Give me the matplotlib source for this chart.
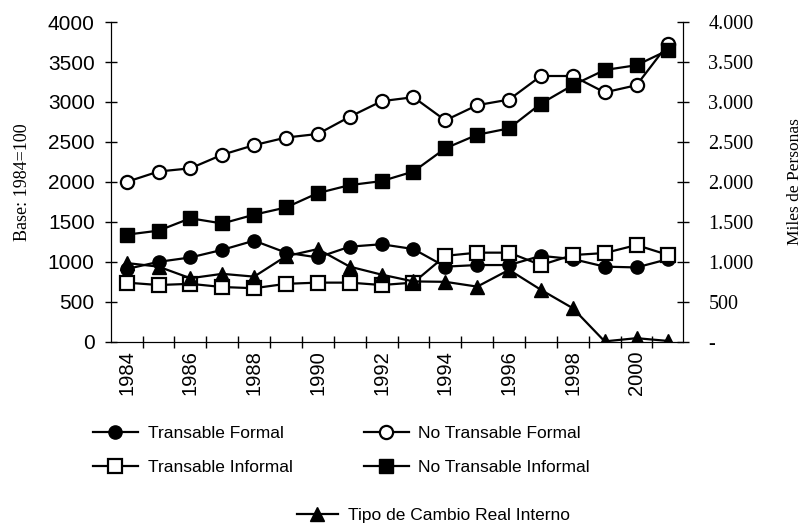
import matplotlib
matplotlib.use("Agg")
import matplotlib.pyplot as plt
from matplotlib.ticker import FuncFormatter, MultipleLocator

anios = list(range(1984, 2002))

transable_formal = [910, 1000, 1055, 1150, 1265, 1115, 1055, 1190, 1220,
                    1160, 940, 960, 960, 1075, 1035, 940, 930, 1035]
no_transable_formal = [2000, 2130, 2170, 2340, 2460, 2555, 2600, 2815, 3010,
                       3060, 2770, 2960, 3030, 3325, 3325, 3120, 3210, 3730]
transable_informal = [740, 710, 725, 685, 670, 725, 740, 740, 710,
                      740, 1075, 1115, 1115, 960, 1085, 1110, 1210, 1085]
no_transable_informal = [1340, 1390, 1545, 1480, 1590, 1680, 1860, 1960, 2010,
                         2130, 2420, 2590, 2670, 2980, 3210, 3400, 3460, 3650]
tipo_cambio = [985, 940, 795, 850, 815, 1070, 1160, 940, 840,
               755, 750, 690, 900, 650, 420, 5, 45, 10]

fig = plt.figure(figsize=(8.08, 5.25), dpi=100)
ax = fig.add_axes([0.137, 0.349, 0.708, 0.609])
ax2 = ax.twinx()

lw = 1.6
ms = 9.5
l1, = ax2.plot(anios, transable_formal, color="black", lw=lw, marker="o",
               ms=ms, label="Transable Formal")
l2, = ax2.plot(anios, no_transable_formal, color="black", lw=lw, marker="o",
               ms=ms, mfc="white", mew=1.6, label="No Transable Formal")
l3, = ax2.plot(anios, transable_informal, color="black", lw=lw, marker="s",
               ms=ms, mfc="white", mew=1.6, label="Transable Informal")
l4, = ax2.plot(anios, no_transable_informal, color="black", lw=lw, marker="s",
               ms=ms, label="No Transable Informal")
l5, = ax.plot(anios, tipo_cambio, color="black", lw=lw, marker="^",
              ms=ms, label="Tipo de Cambio Real Interno")

for a in (ax, ax2):
    a.set_ylim(0, 4000)
    a.set_xlim(1983.5, 2001.45)
    a.yaxis.set_major_locator(MultipleLocator(500))
    a.spines["top"].set_visible(False)
    a.tick_params(axis="y", direction="inout", length=9, width=1)

ax.set_zorder(ax2.get_zorder() + 1)
ax.patch.set_visible(False)

ax.set_xticks(list(range(1984, 2001, 2)))
ax.set_xticklabels([str(a) for a in range(1984, 2001, 2)], rotation=90,
                   fontsize=14.5, family="Liberation Sans")
ax.set_xticks([a + 0.5 for a in range(1984, 2001)], minor=True)
ax.tick_params(axis="x", which="major", length=0, pad=6)
ax.tick_params(axis="x", which="minor", direction="inout", length=9, width=1)

ax.tick_params(axis="y", pad=7)
for t in ax.get_yticklabels():
    t.set_family("Liberation Sans")
    t.set_fontsize(15)

ax2.yaxis.set_major_formatter(FuncFormatter(
    lambda v, p: "-" if v == 0 else f"{int(v):,}".replace(",", ".")))
ax2.tick_params(axis="y", pad=14)
for t in ax2.get_yticklabels():
    t.set_family("Liberation Serif")
    t.set_fontsize(14.5)

ax.set_ylabel("Base: 1984=100", family="Liberation Serif", fontsize=13, labelpad=12)
ax2.set_ylabel("Miles de Personas", family="Liberation Serif", fontsize=12.5,
               labelpad=24)

leg_kw = dict(frameon=False, loc="upper left", borderaxespad=0, borderpad=0,
              handlelength=2.6, handletextpad=0.55, labelspacing=1.05,
              prop={"family": "Liberation Sans", "size": 12.5})
fig.legend([l1, l3], [l1.get_label(), l3.get_label()],
           bbox_to_anchor=(0.115, 0.188), **leg_kw)
fig.legend([l2, l4], [l2.get_label(), l4.get_label()],
           bbox_to_anchor=(0.45, 0.188), **leg_kw)
leg_kw["handlelength"] = 2.4
fig.legend([l5], [l5.get_label()], bbox_to_anchor=(0.367, 0.032), **leg_kw)

plt.savefig("out.png", dpi=100)
plt.close()
